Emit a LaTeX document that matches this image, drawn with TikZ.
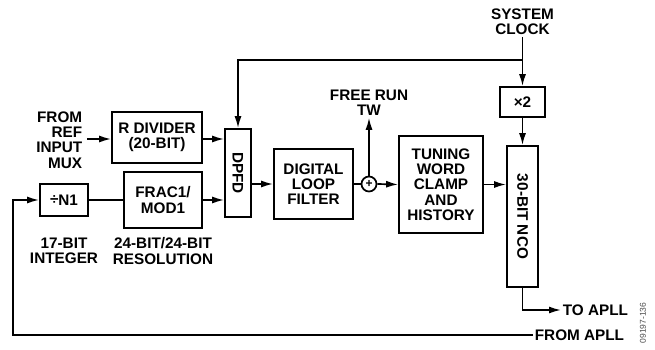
\documentclass[tikz,border=0pt]{standalone}
\usepackage{fontspec}
\setmainfont{Liberation Sans}
\usetikzlibrary{arrows.meta,positioning}

\begin{document}
\begin{tikzpicture}[x=1pt,y=-1pt,line width=1.7pt,
  every node/.style={font=\fontsize{15.3}{15.3}\selectfont\bfseries,align=center,inner sep=1pt},
  blk/.style={draw,line width=1.7pt,inner sep=0pt},
  arr/.style={-{Latex[length=12pt,width=7pt]}}]
\useasboundingbox (0,0) rectangle (655,350);
\node(rdiv)[blk,minimum width=90,minimum height=51] at (157,137.5){R DIVIDER\\(20-BIT)};
\node(frac)[blk,minimum width=78,minimum height=56] at (163,200){FRAC1/\\MOD1};
\node(n1)[blk,minimum width=48,minimum height=32] at (64,200){\raisebox{0.5pt}{÷}N1};
\node(dpfd)[blk,minimum width=26,minimum height=88,label={[rotate=-90]center:DPFD}] at (238,173){};
\node(dlf)[blk,minimum width=79,minimum height=70] at (313.5,184){DIGITAL\\LOOP\\FILTER};
\node(sum)[draw,circle,line width=1.7pt,minimum size=15,inner sep=0pt,font=\fontsize{12}{12}\selectfont\bfseries] at (369,184){+};
\node(twch)[blk,minimum width=84,minimum height=97] at (441,184.5){TUNING\\WORD\\CLAMP\\AND\\HISTORY};
\node(nco)[blk,minimum width=31,minimum height=141,label={[rotate=-90]center:30-BIT NCO}] at (522.5,216.5){};
\node(x2)[blk,minimum width=45,minimum height=30] at (522.5,102){×2};
\node(ref)[align=right,anchor=east] at (84,140){FROM\\REF\\INPUT\\MUX};
\node(sysclk) at (522.5,22){SYSTEM\\CLOCK};
\node(freerun) at (369,103){FREE RUN\\TW};
\node(intlbl) at (64,251){17-BIT\\INTEGER};
\node(reslbl) at (163,251){24-BIT/24-BIT\\RESOLUTION};
\node(toapll)[anchor=west] at (561,310){TO APLL};
\node(fromapll)[anchor=west] at (533,335){FROM APLL};
\node(figid)[rotate=90,font=\fontsize{8.5}{8.5}\selectfont,text=black!70] at (643,323){09197-136};
\coordinate(tap) at (522.5,60);
\coordinate(fbk) at (13,335);
% forward path
\draw[arr]([xshift=3pt]ref.east|-0,139)--(rdiv.west|-0,139);
\draw[arr](rdiv.east|-0,139)--(dpfd.west|-0,139);
\draw(n1.east)--(frac.west);
\draw[arr](frac.east)--(dpfd.west|-frac.east);
\draw[arr](dpfd.east|-dlf.west)--(dlf.west);
\draw(dlf.east)--(sum.west);
\draw[arr](sum.north)--(freerun.south);
\draw[arr](sum.east)--(twch.west);
\draw[arr](twch.east)--(nco.west|-twch.east);
% clock
\draw[arr](sysclk.south)--(x2.north);
\draw[arr](x2.south)--(nco.north);
\draw[arr](tap)-|(dpfd.north);
% outputs and feedback
\draw[arr](nco.south)|-(toapll.west);
\draw[arr](fromapll.west)--(fbk)|-(n1.west);
\end{tikzpicture}
\end{document}
